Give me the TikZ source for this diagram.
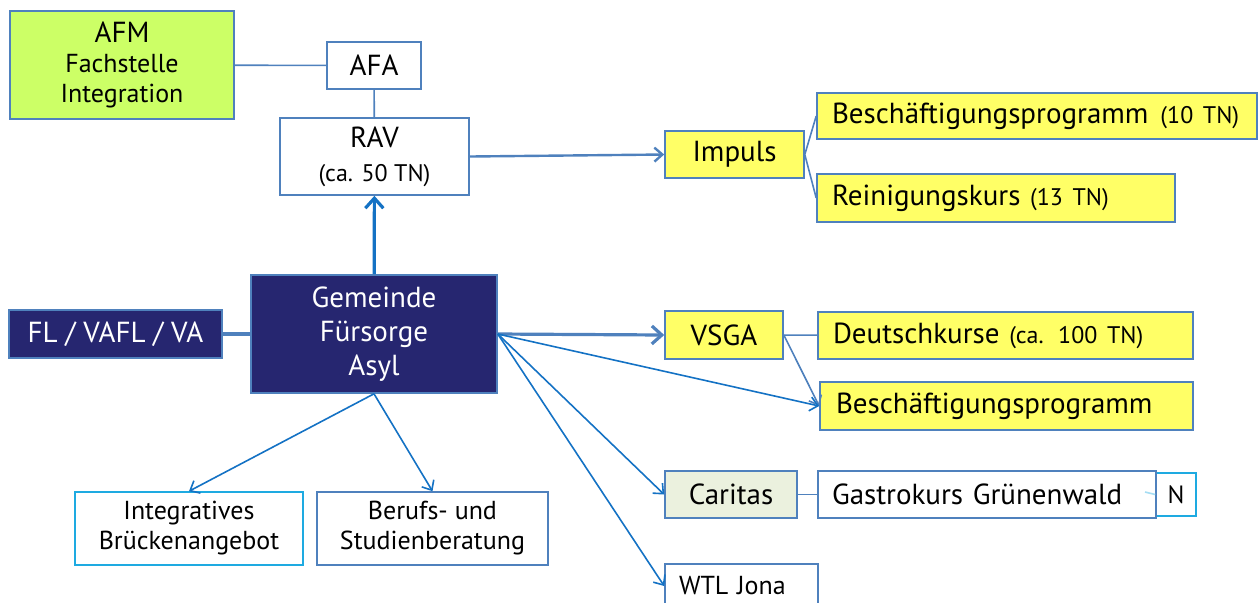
\documentclass[tikz,border=0pt]{standalone}
\usepackage{fontspec}
\setmainfont{PT Sans}
\usepackage{tikz}
\usetikzlibrary{arrows.meta}
\definecolor{boxblue}{RGB}{79,129,189}
\definecolor{arrowblue}{RGB}{20,114,196}
\definecolor{cyanblue}{RGB}{30,170,225}
\definecolor{navy}{RGB}{38,38,112}
\definecolor{kursgelb}{RGB}{255,255,102}
\definecolor{afmgreen}{RGB}{204,255,102}
\definecolor{caritasgrey}{RGB}{235,241,222}

\begin{document}
\begin{tikzpicture}[x=0.5pt,y=-0.5pt]
\tikzstyle{box}=[draw=boxblue,line width=0.8pt,inner sep=0pt,align=center,font=\fontsize{14.5}{17}\selectfont]
\tikzstyle{yellow box}=[box,fill=kursgelb,align=left,inner xsep=7.5pt]
\tikzstyle{dark box}=[box,fill=navy,text=white]
\tikzstyle{link}=[draw=boxblue,line width=0.8pt]
\tikzstyle{pfeil}=[draw=arrowblue,line width=0.8pt,-{Straight Barb[length=4pt,width=7pt]}]
\tikzstyle{dick pfeil}=[line width=1.6pt,-{Straight Barb[length=5pt,width=9pt]}]
\newcommand{\klein}{\fontsize{12}{14}\selectfont}

\useasboundingbox (0,0) rectangle (1258,602);
\clip (0,0) rectangle (1258,602);

% oben links
\node(afm)[box,fill=afmgreen,minimum width=112pt,minimum height=54pt,
    font=\fontsize{13}{15}\selectfont] at (122,65)
    {{\fontsize{14.5}{15}\selectfont AFM}\\Fachstelle\\Integration};
\node(afa)[box,minimum width=47pt,minimum height=23.5pt] at (374,65.5) {AFA};
\node(rav)[box,minimum width=94.5pt,minimum height=38.5pt] at (374.5,156.5)
    {RAV\\{\klein (ca. 50 TN)}};

% Impuls
\node(impuls)[box,fill=kursgelb,minimum width=69.5pt,minimum height=23.5pt] at (734.5,154.5) {Impuls};
\node(beschA)[yellow box,text width=205pt,minimum height=23pt] at (1037,116)
    {\mbox{Beschäftigungsprogramm\hspace{6pt}{\klein (10 TN)}}};
\node(reinigung)[yellow box,text width=164pt,minimum height=24pt] at (996,198)
    {Reinigungskurs {\klein (13 TN)}};

% Mitte
\node(fl)[dark box,minimum width=106.5pt,minimum height=24pt] at (115.5,334) {FL / VAFL / VA};
\node(gemeinde)[dark box,minimum width=123pt,minimum height=59pt] at (374,334)
    {Gemeinde\\Fürsorge\\Asyl};
\node(vsga)[box,fill=kursgelb,minimum width=59pt,minimum height=24pt] at (724,335) {VSGA};
\node(deutsch)[yellow box,text width=172.5pt,minimum height=23.5pt] at (1005.5,335.5)
    {Deutschkurse {\klein (ca. 100 TN)}};
\node(beschB)[yellow box,inner xsep=8pt,text width=170.5pt,minimum height=24pt] at (1006.5,406)
    {Beschäftigungsprogramm};

% Caritas, WTL
\node(caritas)[box,fill=caritasgrey,minimum width=66pt,minimum height=23.5pt] at (731,494.5) {Caritas};
\node(n)[box,draw=cyanblue,minimum width=20pt,minimum height=21.5pt,
    font=\fontsize{12.5}{14}\selectfont] at (1176,494.5) {N};
\node(gastro)[box,fill=white,align=left,inner xsep=7pt,text width=155pt,minimum height=23.5pt] at (987,494.5)
    {Gastrokurs Grünenwald};
\node(wtl)[box,align=left,inner xsep=7pt,text width=62.5pt,minimum height=22pt,
    font=\fontsize{13}{14}\selectfont] at (741.5,586) {WTL Jona};

% unten links
\node(integrativ)[box,draw=cyanblue,minimum width=114pt,minimum height=36.5pt,
    font=\fontsize{13}{15}\selectfont] at (189,528.5) {Integratives\\Brückenangebot};
\node(beratung)[box,minimum width=115.5pt,minimum height=36.5pt,
    font=\fontsize{13}{15}\selectfont] at (432.5,528.5) {Berufs- und\\Studienberatung};

% Verbindungen
\draw[link] (afm) -- (afa);
\draw[link] (afa) -- (rav);
\draw[dick pfeil,draw=arrowblue] (gemeinde) -- (rav);
\draw[pfeil,draw=boxblue,line width=1.2pt] (rav.east) -- (impuls.west);
\draw[link] (impuls.east) -- (beschA.west);
\draw[link] (impuls.east) -- (reinigung.west);
\draw[draw=boxblue,line width=2pt] (fl) -- (gemeinde);
\draw[dick pfeil,draw=boxblue] (gemeinde.east) -- (vsga.west);
\draw[link] (vsga) -- (deutsch);
\draw[pfeil,draw=boxblue] (vsga.east) -- (beschB.west);
\draw[pfeil] (gemeinde.east) -- (beschB.west);
\draw[pfeil] (gemeinde.east) -- (caritas.west);
\draw[pfeil] (gemeinde.east) -- (wtl.west);
\draw[link] (caritas) -- (gastro);
\coordinate(gstub) at (1145,492);
\draw[draw=cyanblue!40,line width=0.8pt] (gstub) -- (n.west);
\draw[pfeil] (gemeinde.south) -- (integrativ.north);
\draw[pfeil] (gemeinde.south) -- (beratung.north);

\end{tikzpicture}
\end{document}
